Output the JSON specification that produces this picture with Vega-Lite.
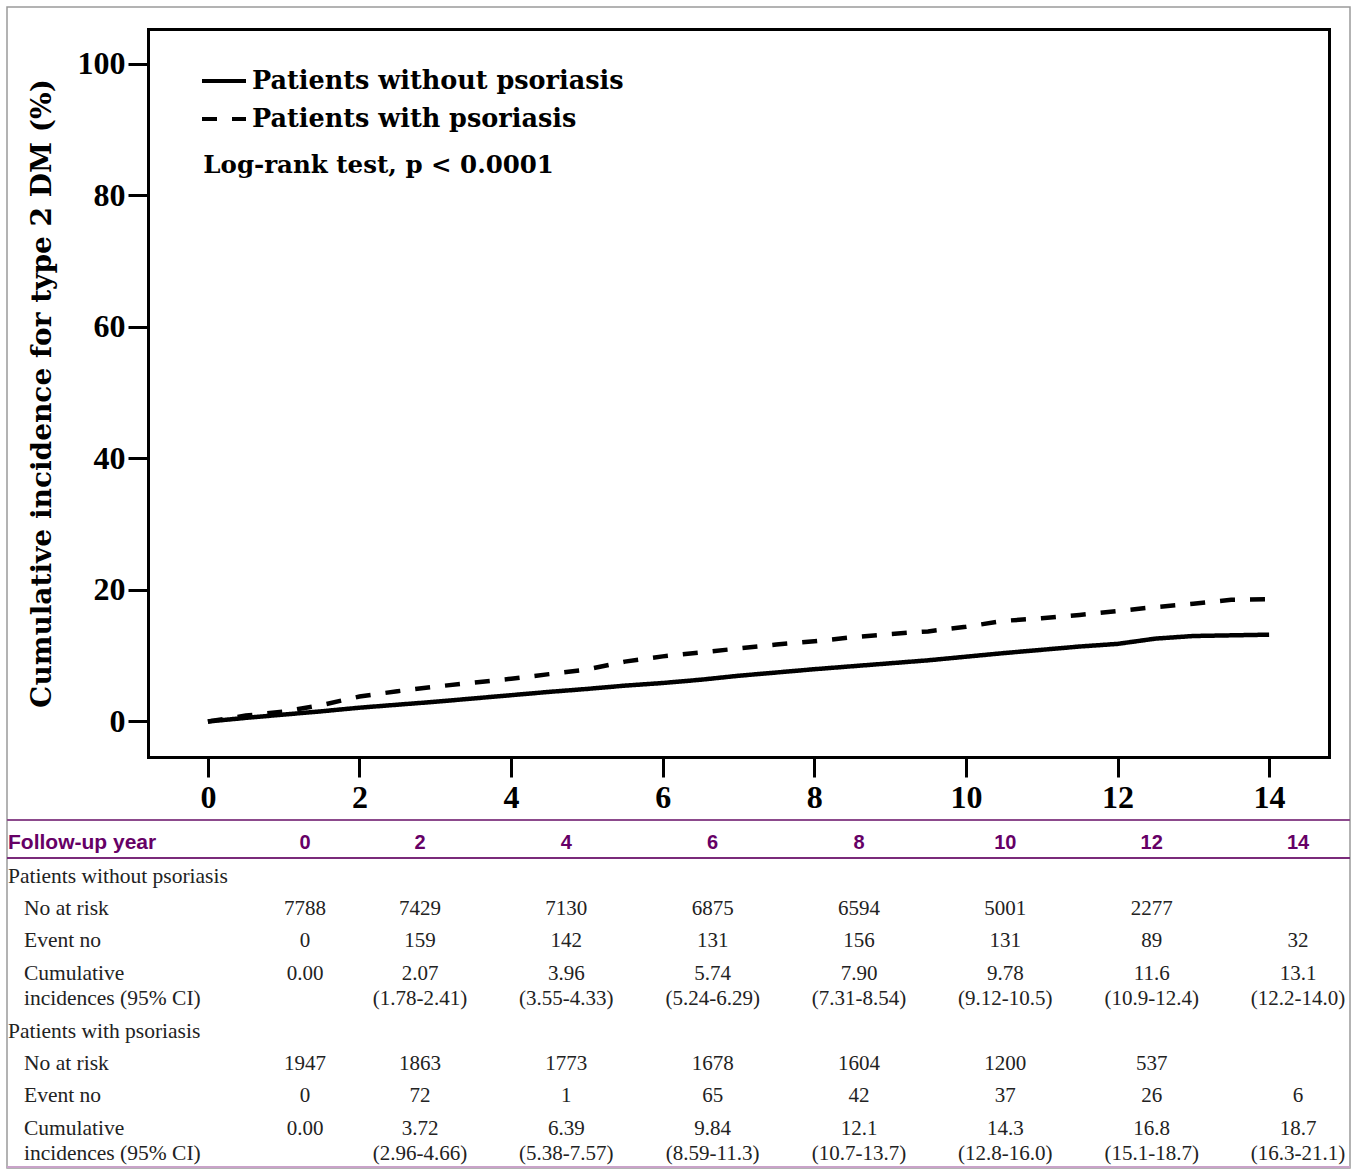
{
  "$schema": "https://vega.github.io/schema/vega-lite/v6.json",
  "width": 1343,
  "height": 1161,
  "autosize": {"type": "none"},
  "padding": {"left": 7, "top": 7, "right": 3, "bottom": 1},
  "background": "white",
  "config": {"view": {"stroke": "#9a9a9a", "strokeWidth": 1.5}},
  "datasets": {
    "curves": [
      {"group": "Patients without psoriasis", "year": 0, "incidence": 0},
      {"group": "Patients without psoriasis", "year": 0.5, "incidence": 0.55},
      {"group": "Patients without psoriasis", "year": 1, "incidence": 1.05},
      {"group": "Patients without psoriasis", "year": 1.5, "incidence": 1.55},
      {"group": "Patients without psoriasis", "year": 2, "incidence": 2.1},
      {"group": "Patients without psoriasis", "year": 2.5, "incidence": 2.55},
      {"group": "Patients without psoriasis", "year": 3, "incidence": 3.0},
      {"group": "Patients without psoriasis", "year": 3.5, "incidence": 3.5},
      {"group": "Patients without psoriasis", "year": 4, "incidence": 4.0},
      {"group": "Patients without psoriasis", "year": 4.5, "incidence": 4.5},
      {"group": "Patients without psoriasis", "year": 5, "incidence": 4.95},
      {"group": "Patients without psoriasis", "year": 5.5, "incidence": 5.45},
      {"group": "Patients without psoriasis", "year": 6, "incidence": 5.85},
      {"group": "Patients without psoriasis", "year": 6.5, "incidence": 6.35},
      {"group": "Patients without psoriasis", "year": 7, "incidence": 6.95},
      {"group": "Patients without psoriasis", "year": 7.5, "incidence": 7.45},
      {"group": "Patients without psoriasis", "year": 8, "incidence": 7.95},
      {"group": "Patients without psoriasis", "year": 8.5, "incidence": 8.4},
      {"group": "Patients without psoriasis", "year": 9, "incidence": 8.85},
      {"group": "Patients without psoriasis", "year": 9.5, "incidence": 9.3},
      {"group": "Patients without psoriasis", "year": 10, "incidence": 9.85},
      {"group": "Patients without psoriasis", "year": 10.5, "incidence": 10.4},
      {"group": "Patients without psoriasis", "year": 11, "incidence": 10.9},
      {"group": "Patients without psoriasis", "year": 11.5, "incidence": 11.4},
      {"group": "Patients without psoriasis", "year": 12, "incidence": 11.8},
      {"group": "Patients without psoriasis", "year": 12.5, "incidence": 12.6},
      {"group": "Patients without psoriasis", "year": 13, "incidence": 13.0},
      {"group": "Patients without psoriasis", "year": 13.5, "incidence": 13.1},
      {"group": "Patients without psoriasis", "year": 14, "incidence": 13.2},
      {"group": "Patients with psoriasis", "year": 0, "incidence": 0},
      {"group": "Patients with psoriasis", "year": 0.5, "incidence": 0.9},
      {"group": "Patients with psoriasis", "year": 1, "incidence": 1.5},
      {"group": "Patients with psoriasis", "year": 1.5, "incidence": 2.5},
      {"group": "Patients with psoriasis", "year": 2, "incidence": 3.8},
      {"group": "Patients with psoriasis", "year": 2.5, "incidence": 4.6},
      {"group": "Patients with psoriasis", "year": 3, "incidence": 5.3},
      {"group": "Patients with psoriasis", "year": 3.5, "incidence": 5.9},
      {"group": "Patients with psoriasis", "year": 4, "incidence": 6.5},
      {"group": "Patients with psoriasis", "year": 4.5, "incidence": 7.2},
      {"group": "Patients with psoriasis", "year": 5, "incidence": 7.9},
      {"group": "Patients with psoriasis", "year": 5.5, "incidence": 9.1},
      {"group": "Patients with psoriasis", "year": 6, "incidence": 9.9},
      {"group": "Patients with psoriasis", "year": 6.5, "incidence": 10.5},
      {"group": "Patients with psoriasis", "year": 7, "incidence": 11.1},
      {"group": "Patients with psoriasis", "year": 7.5, "incidence": 11.7},
      {"group": "Patients with psoriasis", "year": 8, "incidence": 12.2},
      {"group": "Patients with psoriasis", "year": 8.5, "incidence": 12.8},
      {"group": "Patients with psoriasis", "year": 9, "incidence": 13.3},
      {"group": "Patients with psoriasis", "year": 9.5, "incidence": 13.7},
      {"group": "Patients with psoriasis", "year": 10, "incidence": 14.4},
      {"group": "Patients with psoriasis", "year": 10.5, "incidence": 15.3},
      {"group": "Patients with psoriasis", "year": 11, "incidence": 15.7},
      {"group": "Patients with psoriasis", "year": 11.5, "incidence": 16.2},
      {"group": "Patients with psoriasis", "year": 12, "incidence": 16.8},
      {"group": "Patients with psoriasis", "year": 12.5, "incidence": 17.4},
      {"group": "Patients with psoriasis", "year": 13, "incidence": 17.9},
      {"group": "Patients with psoriasis", "year": 13.5, "incidence": 18.5},
      {"group": "Patients with psoriasis", "year": 14, "incidence": 18.6}
    ],
    "rules": [
      {"kind": "top", "line": -0.71},
      {"kind": "header", "line": 0.46},
      {"kind": "bottom", "line": 10}
    ],
    "labels": [
      {"label": "Patients without psoriasis", "level": "group", "line": 1.05},
      {"label": "No at risk", "level": "item", "line": 2.04},
      {"label": "Event no", "level": "item", "line": 3.02},
      {"label": "Cumulative", "level": "item", "line": 4.04},
      {"label": "incidences (95% CI)", "level": "item", "line": 4.81},
      {"label": "Patients with psoriasis", "level": "group", "line": 5.83},
      {"label": "No at risk", "level": "item", "line": 6.81},
      {"label": "Event no", "level": "item", "line": 7.8},
      {"label": "Cumulative", "level": "item", "line": 8.82},
      {"label": "incidences (95% CI)", "level": "item", "line": 9.59}
    ],
    "years": [
      {"year": 0, "line": 0, "text": "0"},
      {"year": 2, "line": 0, "text": "2"},
      {"year": 4, "line": 0, "text": "4"},
      {"year": 6, "line": 0, "text": "6"},
      {"year": 8, "line": 0, "text": "8"},
      {"year": 10, "line": 0, "text": "10"},
      {"year": 12, "line": 0, "text": "12"},
      {"year": 14, "line": 0, "text": "14"}
    ],
    "cells": [
      {"year": 0, "line": 2.04, "text": "7788"},
      {"year": 2, "line": 2.04, "text": "7429"},
      {"year": 4, "line": 2.04, "text": "7130"},
      {"year": 6, "line": 2.04, "text": "6875"},
      {"year": 8, "line": 2.04, "text": "6594"},
      {"year": 10, "line": 2.04, "text": "5001"},
      {"year": 12, "line": 2.04, "text": "2277"},
      {"year": 0, "line": 3.02, "text": "0"},
      {"year": 2, "line": 3.02, "text": "159"},
      {"year": 4, "line": 3.02, "text": "142"},
      {"year": 6, "line": 3.02, "text": "131"},
      {"year": 8, "line": 3.02, "text": "156"},
      {"year": 10, "line": 3.02, "text": "131"},
      {"year": 12, "line": 3.02, "text": "89"},
      {"year": 14, "line": 3.02, "text": "32"},
      {"year": 0, "line": 4.04, "text": "0.00"},
      {"year": 2, "line": 4.04, "text": "2.07"},
      {"year": 4, "line": 4.04, "text": "3.96"},
      {"year": 6, "line": 4.04, "text": "5.74"},
      {"year": 8, "line": 4.04, "text": "7.90"},
      {"year": 10, "line": 4.04, "text": "9.78"},
      {"year": 12, "line": 4.04, "text": "11.6"},
      {"year": 14, "line": 4.04, "text": "13.1"},
      {"year": 2, "line": 4.81, "text": "(1.78-2.41)"},
      {"year": 4, "line": 4.81, "text": "(3.55-4.33)"},
      {"year": 6, "line": 4.81, "text": "(5.24-6.29)"},
      {"year": 8, "line": 4.81, "text": "(7.31-8.54)"},
      {"year": 10, "line": 4.81, "text": "(9.12-10.5)"},
      {"year": 12, "line": 4.81, "text": "(10.9-12.4)"},
      {"year": 14, "line": 4.81, "text": "(12.2-14.0)"},
      {"year": 0, "line": 6.81, "text": "1947"},
      {"year": 2, "line": 6.81, "text": "1863"},
      {"year": 4, "line": 6.81, "text": "1773"},
      {"year": 6, "line": 6.81, "text": "1678"},
      {"year": 8, "line": 6.81, "text": "1604"},
      {"year": 10, "line": 6.81, "text": "1200"},
      {"year": 12, "line": 6.81, "text": "537"},
      {"year": 0, "line": 7.8, "text": "0"},
      {"year": 2, "line": 7.8, "text": "72"},
      {"year": 4, "line": 7.8, "text": "1"},
      {"year": 6, "line": 7.8, "text": "65"},
      {"year": 8, "line": 7.8, "text": "42"},
      {"year": 10, "line": 7.8, "text": "37"},
      {"year": 12, "line": 7.8, "text": "26"},
      {"year": 14, "line": 7.8, "text": "6"},
      {"year": 0, "line": 8.82, "text": "0.00"},
      {"year": 2, "line": 8.82, "text": "3.72"},
      {"year": 4, "line": 8.82, "text": "6.39"},
      {"year": 6, "line": 8.82, "text": "9.84"},
      {"year": 8, "line": 8.82, "text": "12.1"},
      {"year": 10, "line": 8.82, "text": "14.3"},
      {"year": 12, "line": 8.82, "text": "16.8"},
      {"year": 14, "line": 8.82, "text": "18.7"},
      {"year": 2, "line": 9.59, "text": "(2.96-4.66)"},
      {"year": 4, "line": 9.59, "text": "(5.38-7.57)"},
      {"year": 6, "line": 9.59, "text": "(8.59-11.3)"},
      {"year": 8, "line": 9.59, "text": "(10.7-13.7)"},
      {"year": 10, "line": 9.59, "text": "(12.8-16.0)"},
      {"year": 12, "line": 9.59, "text": "(15.1-18.7)"},
      {"year": 14, "line": 9.59, "text": "(16.3-21.1)"}
    ]
  },
  "layer": [
    {
      "layer": [
        {
          "data": {"name": "curves"},
          "mark": {"type": "line", "color": "black", "strokeWidth": 4.5, "strokeCap": "butt", "interpolate": "linear"},
          "encoding": {
            "x": {
              "field": "year", "type": "quantitative",
              "scale": {"domain": [-0.79, 14.79], "range": [141, 1322], "nice": false, "zero": false},
              "axis": {
                "orient": "bottom", "offset": -411, "values": [0, 2, 4, 6, 8, 10, 12, 14], "format": "d",
                "domain": true, "domainColor": "black", "domainWidth": 3, "domainCap": "square",
                "ticks": true, "tickColor": "black", "tickWidth": 3, "tickSize": 20,
                "labelFont": "Liberation Serif", "labelFontWeight": "bold", "labelFontSize": 32, "labelColor": "black",
                "labelPadding": 5, "labelFlush": false, "labelOverlap": false, "grid": false, "title": null
              }
            },
            "y": {
              "field": "incidence", "type": "quantitative",
              "scale": {"domain": [-5.4, 105.3], "range": [750, 22], "nice": false, "zero": false},
              "axis": {
                "orient": "left", "offset": -141, "values": [0, 20, 40, 60, 80, 100], "format": "d",
                "domain": true, "domainColor": "black", "domainWidth": 3, "domainCap": "square",
                "ticks": true, "tickColor": "black", "tickWidth": 3, "tickSize": 20,
                "labelFont": "Liberation Serif", "labelFontWeight": "bold", "labelFontSize": 32, "labelColor": "black",
                "labelPadding": 3, "labelFlush": false, "labelOverlap": false, "grid": false,
                "title": "Cumulative incidence for type 2 DM (%)",
                "titleFont": "DejaVu Serif", "titleFontWeight": "bold", "titleFontSize": 28, "titleColor": "black",
                "titlePadding": 21
              }
            },
            "strokeDash": {
              "field": "group", "type": "nominal",
              "scale": {"domain": ["Patients without psoriasis", "Patients with psoriasis"], "range": [[1, 0], [15, 15]]},
              "legend": {
                "orient": "none", "legendX": 204, "legendY": 61, "title": null,
                "symbolType": "M-2,0H2", "symbolSize": 484, "symbolStrokeWidth": 4, "symbolStrokeColor": "black",
                "symbolFillColor": "transparent",
                "labelFont": "DejaVu Serif", "labelFontWeight": "bold", "labelFontSize": 25.5, "labelColor": "black",
                "labelOffset": 15, "rowPadding": 11, "padding": 0, "labelLimit": 700
              }
            }
          }
        },
        {
          "data": {"values": [{"note": "Log-rank test, p < 0.0001"}]},
          "mark": {"type": "text", "align": "left", "baseline": "middle", "font": "DejaVu Serif", "fontWeight": "bold", "fontSize": 24.5, "color": "black"},
          "encoding": {
            "x": {
              "datum": -0.06, "type": "quantitative",
              "axis": {"orient": "top", "offset": -22, "domain": true, "domainColor": "black", "domainWidth": 3, "domainCap": "square", "ticks": false, "labels": false, "grid": false, "title": null}
            },
            "y": {
              "datum": 84.4, "type": "quantitative",
              "axis": {"orient": "right", "offset": -21, "domain": true, "domainColor": "black", "domainWidth": 3, "domainCap": "square", "ticks": false, "labels": false, "grid": false, "title": null}
            },
            "text": {"field": "note"}
          }
        }
      ],
      "resolve": {"axis": {"x": "independent", "y": "independent"}}
    },
    {
      "layer": [
        {
          "data": {"name": "rules"},
          "mark": {"type": "rule", "strokeWidth": 2},
          "encoding": {
            "y": {"field": "line", "type": "quantitative", "scale": {"domain": [-0.71, 10], "range": [813, 1160], "nice": false, "zero": false}, "axis": null},
            "color": {"field": "kind", "type": "nominal", "scale": {"domain": ["top", "header", "bottom"], "range": ["#8c4a8c", "#7a2a7a", "#c9a3c9"]}, "legend": null}
          }
        },
        {
          "data": {"values": [{"label": "Follow-up year", "level": "group", "line": 0}]},
          "mark": {"type": "text", "align": "left", "baseline": "middle", "font": "Liberation Sans", "fontWeight": "bold", "fontSize": 21, "color": "#660066"},
          "encoding": {
            "x": {"field": "level", "type": "nominal", "scale": {"type": "point", "domain": ["group", "item"], "range": [1, 17], "padding": 0}, "axis": null},
            "y": {"field": "line", "type": "quantitative", "axis": null},
            "text": {"field": "label"}
          }
        },
        {
          "data": {"name": "labels"},
          "mark": {"type": "text", "align": "left", "baseline": "middle", "font": "Liberation Serif", "fontSize": 21.5, "color": "#222222"},
          "encoding": {
            "x": {"field": "level", "type": "nominal", "scale": {"type": "point", "domain": ["group", "item"], "range": [1, 17], "padding": 0}, "axis": null},
            "y": {"field": "line", "type": "quantitative", "axis": null},
            "text": {"field": "label"}
          }
        },
        {
          "data": {"name": "years"},
          "mark": {"type": "text", "align": "center", "baseline": "middle", "font": "Liberation Sans", "fontWeight": "bold", "fontSize": 20, "color": "#660066"},
          "encoding": {
            "x": {"field": "year", "type": "quantitative", "scale": {"domain": [0, 2, 14], "range": [298, 413, 1291], "nice": false, "zero": false}, "axis": null},
            "y": {"field": "line", "type": "quantitative", "axis": null},
            "text": {"field": "text"}
          }
        },
        {
          "data": {"name": "cells"},
          "mark": {"type": "text", "align": "center", "baseline": "middle", "font": "Liberation Serif", "fontSize": 21, "color": "#222222"},
          "encoding": {
            "x": {"field": "year", "type": "quantitative", "scale": {"domain": [0, 2, 14], "range": [298, 413, 1291], "nice": false, "zero": false}, "axis": null},
            "y": {"field": "line", "type": "quantitative", "axis": null},
            "text": {"field": "text"}
          }
        }
      ],
      "resolve": {"scale": {"x": "independent"}}
    }
  ],
  "resolve": {"scale": {"x": "independent", "y": "independent", "color": "independent", "strokeDash": "independent"}}
}
